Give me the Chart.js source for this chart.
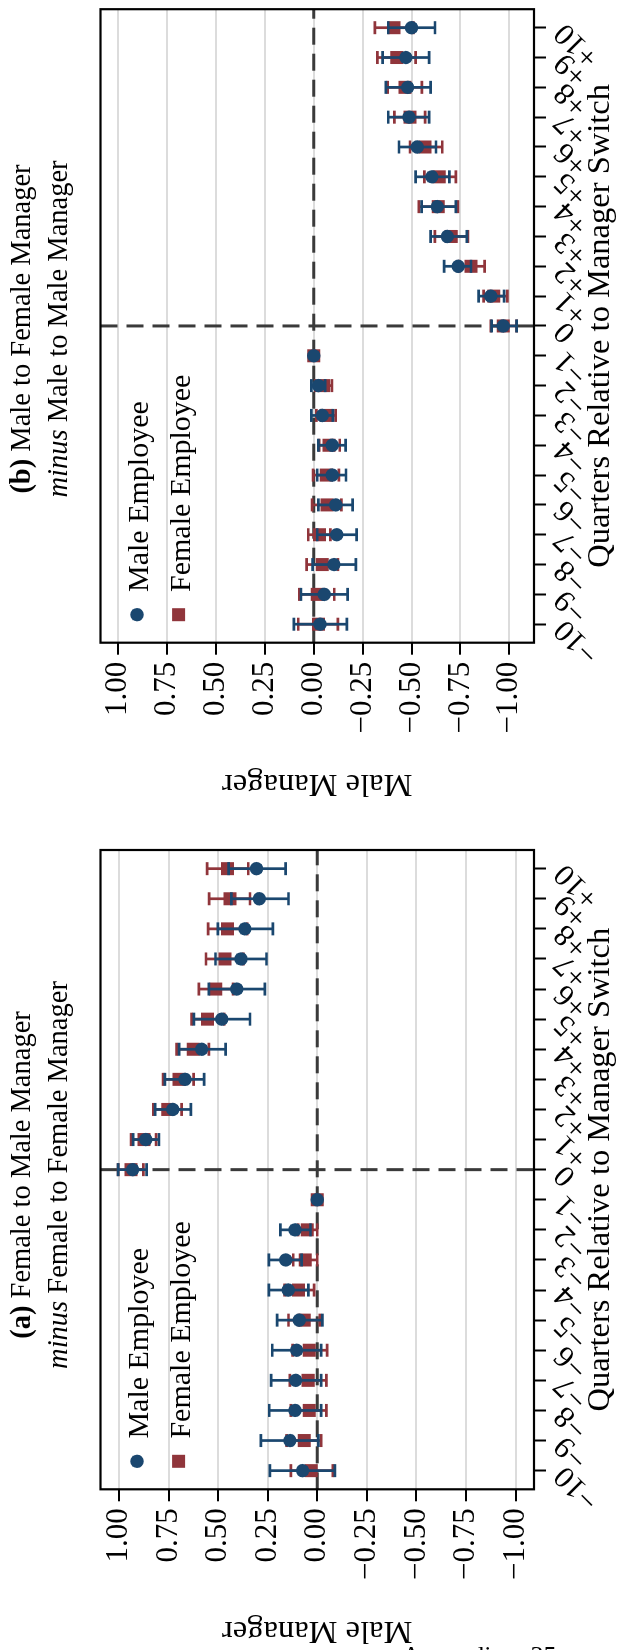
<!DOCTYPE html>
<html>
<head>
<meta charset="utf-8">
<script src="https://cdn.jsdelivr.net/npm/chart.js@4.4.1/dist/chart.umd.min.js"></script>
<style>
html,body{margin:0;padding:0;background:#fff;}
body{width:618px;height:1650px;position:relative;overflow:hidden;font-family:"Liberation Serif","Times New Roman",serif;color:#000;}
.panel{position:absolute;left:0;width:830px;height:618px;transform-origin:0 0;transform:rotate(-90deg);}
.panel canvas{position:absolute;left:0;top:0;}
.ttl{position:absolute;top:2px;width:600px;text-align:center;font-size:28.5px;line-height:37px;white-space:nowrap;}
#foot{position:absolute;left:402px;top:1641px;font-size:26px;white-space:nowrap;}
</style>
</head>
<body>

<div class="panel" id="pb" style="top:830px">
  <canvas id="chartB" width="830" height="618"></canvas>
  <div class="ttl" style="left:201px"><b>(b)</b> Male to Female Manager<br><i>minus</i> Male to Male Manager</div>
</div>
<div class="panel" id="pa" style="top:1650px">
  <canvas id="chartA" width="830" height="618"></canvas>
  <div class="ttl" style="left:175px"><b>(a)</b> Female to Male Manager<br><i>minus</i> Female to Female Manager</div>
</div>
<div id="foot">Appendix – 35</div>

<script>
// quarters relative to the manager switch, and their labels
const quarters = [-10,-9,-8,-7,-6,-5,-4,-3,-2,-1,0,1,2,3,4,5,6,7,8,9,10];
const quarterLabels = ['−10','−9','−8','−7','−6','−5','−4','−3','−2','−1','0','+1','+2','+3','+4','+5','+6','+7','+8','+9','+10'];
const yTicks = [-1,-0.75,-0.5,-0.25,0,0.25,0.5,0.75,1];

// (a) Female to Male minus Female to Female
const maleA   = [0.074,0.138,0.112,0.109,0.104,0.091,0.146,0.159,0.112,0,0.931,0.865,0.729,0.667,0.583,0.482,0.406,0.385,0.365,0.292,0.306];
const maleALo = [-0.089,-0.006,-0.020,-0.020,-0.020,-0.026,0.045,0.079,0.034,0,0.860,0.798,0.637,0.570,0.462,0.339,0.264,0.256,0.224,0.145,0.159];
const maleAHi = [0.239,0.284,0.242,0.233,0.227,0.202,0.244,0.244,0.186,0,1.004,0.928,0.818,0.768,0.697,0.622,0.547,0.513,0.501,0.433,0.447];
const femA    = [0.030,0.066,0.040,0.046,0.040,0.066,0.095,0.060,0.050,0,0.939,0.874,0.754,0.697,0.625,0.553,0.512,0.465,0.452,0.440,0.452];
const femALo  = [-0.079,-0.020,-0.046,-0.046,-0.050,-0.013,0.016,0.000,0.000,0,0.877,0.813,0.684,0.623,0.546,0.469,0.424,0.373,0.353,0.339,0.348];
const femAHi  = [0.133,0.154,0.133,0.138,0.124,0.145,0.165,0.121,0.096,0,1.004,0.939,0.827,0.777,0.709,0.633,0.597,0.561,0.550,0.545,0.555];

// (b) Male to Female minus Male to Male
const maleB   = [-0.032,-0.054,-0.103,-0.118,-0.112,-0.095,-0.095,-0.044,-0.024,0,-0.969,-0.905,-0.739,-0.683,-0.632,-0.604,-0.529,-0.487,-0.480,-0.471,-0.500];
const maleBLo = [-0.169,-0.173,-0.215,-0.219,-0.199,-0.165,-0.163,-0.098,-0.058,0,-1.037,-0.973,-0.804,-0.783,-0.727,-0.693,-0.625,-0.590,-0.598,-0.590,-0.620];
const maleBHi = [0.101,0.065,0.006,-0.018,-0.024,-0.018,-0.024,0.012,0.012,0,-0.909,-0.843,-0.667,-0.598,-0.552,-0.521,-0.436,-0.381,-0.369,-0.352,-0.381];
const femB    = [-0.024,-0.018,-0.044,-0.030,-0.068,-0.064,-0.078,-0.064,-0.050,0,-0.969,-0.920,-0.804,-0.703,-0.637,-0.642,-0.569,-0.492,-0.466,-0.424,-0.410];
const femBLo  = [-0.123,-0.105,-0.124,-0.085,-0.141,-0.129,-0.133,-0.112,-0.093,0,-1.037,-0.990,-0.874,-0.788,-0.737,-0.727,-0.657,-0.569,-0.553,-0.521,-0.509];
const femBHi  = [0.079,0.074,0.036,0.028,0.008,0.003,-0.028,-0.014,-0.008,0,-0.905,-0.868,-0.743,-0.619,-0.538,-0.566,-0.492,-0.412,-0.378,-0.325,-0.313];

const NAVY='#1a476f', MAROON='#90353b';
const FONT='"Liberation Serif","Times New Roman",serif';

function fmt(v){ let s=Math.abs(v).toFixed(2); return (v<-1e-9?'−':'')+s; }

// error bars drawn just before each dataset's markers
const errBars={
  id:'errBars',
  beforeDatasetDraw(chart,args){
    const ds=chart.data.datasets[args.index];
    const xs=chart.scales.x, ys=chart.scales.y, ctx=chart.ctx;
    ctx.save();
    ctx.strokeStyle=ds.backgroundColor; ctx.lineWidth=2.7; ctx.lineCap='butt';
    quarters.forEach((q,i)=>{
      if(ds.lo[i]===ds.hi[i]) return;
      let x=xs.getPixelForValue(q), y1=ys.getPixelForValue(ds.lo[i]), y2=ys.getPixelForValue(ds.hi[i]);
      ctx.beginPath();
      ctx.moveTo(x,y1);ctx.lineTo(x,y2);
      ctx.moveTo(x-6.5,y1);ctx.lineTo(x+6.5,y1);
      ctx.moveTo(x-6.5,y2);ctx.lineTo(x+6.5,y2);
      ctx.stroke();
    });
    ctx.restore();
  }
};

// dashed reference lines at quarter 0 and value 0
const refLines={
  id:'refLines',
  beforeDatasetsDraw(chart){
    const {ctx,chartArea:a,scales:{x,y}}=chart;
    ctx.save();
    ctx.strokeStyle='#3a3a3a'; ctx.lineWidth=3; ctx.setLineDash([17,9]);
    let px=x.getPixelForValue(0), py=y.getPixelForValue(0);
    ctx.beginPath(); ctx.moveTo(px,a.top); ctx.lineTo(px,a.bottom); ctx.stroke();
    ctx.beginPath(); ctx.moveTo(a.left,py); ctx.lineTo(a.right,py); ctx.stroke();
    ctx.restore();
  }
};

const frame={
  id:'frame',
  afterDatasetsDraw(chart){
    const {ctx,chartArea:a}=chart;
    ctx.save(); ctx.strokeStyle='#000'; ctx.lineWidth=2.2;
    ctx.strokeRect(a.left,a.top,a.right-a.left,a.bottom-a.top);
    ctx.restore();
  }
};

// legend inside the plot, top-left
const inLegend={
  id:'inLegend',
  afterDraw(chart){
    const {ctx,chartArea:a}=chart;
    ctx.save();
    ctx.font='30px '+FONT; ctx.textBaseline='alphabetic'; ctx.textAlign='left'; ctx.fillStyle='#000';
    chart.data.datasets.forEach((ds,k)=>{
      let mx=a.left+28, my=a.top+36.5+k*41.6;
      ctx.fillStyle=ds.backgroundColor;
      if(ds.pointStyle==='rect'){ ctx.fillRect(mx-6.5,my-6.5,13,13); }
      else { ctx.beginPath(); ctx.arc(mx,my,ds.pointRadius,0,Math.PI*2); ctx.fill(); }
      ctx.fillStyle='#000';
      ctx.fillText(ds.label,a.left+50.7,my+11);
    });
    ctx.restore();
  }
};

function makePanel(id,p){
  const pts=v=>quarters.map((q,i)=>({x:q,y:v[i]}));
  return new Chart(document.getElementById(id),{
    type:'scatter',
    data:{datasets:[
      {label:'Male Employee',data:pts(p.male),lo:p.maleLo,hi:p.maleHi,pointStyle:'circle',pointRadius:6.7,
       backgroundColor:NAVY,borderColor:NAVY,borderWidth:0,order:0},
      {label:'Female Employee',data:pts(p.fem),lo:p.femLo,hi:p.femHi,pointStyle:'rect',pointRadius:9.2,
       backgroundColor:MAROON,borderColor:MAROON,borderWidth:0,order:1}
    ]},
    options:{
      responsive:false,animation:false,devicePixelRatio:1,
      layout:{padding:{left:p.padL,right:p.padR,top:100.5,bottom:0}},
      plugins:{legend:{display:false},tooltip:{enabled:false}},
      scales:{
        x:{type:'linear',min:-10.62,max:10.62,
          afterBuildTicks:s=>{s.ticks=quarters.map(v=>({value:v}));},
          afterFit:s=>{s.height=84;s.paddingLeft=0;s.paddingRight=0;},
          grid:{drawOnChartArea:false,tickLength:12,tickColor:'#000',tickWidth:2},
          border:{display:false},
          ticks:{autoSkip:false,minRotation:45,maxRotation:45,padding:1,color:'#000',
            font:{family:FONT,size:31},callback:(v,i)=>quarterLabels[i]},
          title:{display:true,text:'Quarters Relative to Manager Switch',color:'#000',
            font:{family:FONT,size:32.5,lineHeight:1},padding:{top:0,bottom:1}}
        },
        y:{type:'linear',min:p.yMin,max:p.yMax,
          afterBuildTicks:s=>{s.ticks=yTicks.map(v=>({value:v}));},
          afterFit:s=>{s.width=p.yW;s.paddingTop=0;s.paddingBottom=0;},
          grid:{color:'#dcdcdc',lineWidth:2,tickLength:12,tickColor:'#000',tickWidth:2},
          border:{display:false},
          ticks:{padding:7,color:'#000',font:{family:FONT,size:31},callback:v=>fmt(v)},
          title:{display:true,text:'Male Manager',color:'#000',
            font:{family:FONT,size:32.5,lineHeight:1.2},padding:{top:0,bottom:0}}
        }
      }
    },
    plugins:[refLines,errBars,frame,inLegend]
  });
}

makePanel('chartA',{male:maleA,maleLo:maleALo,maleHi:maleAHi,fem:femA,femLo:femALo,femHi:femAHi,
  yMin:-1.093,yMax:1.093,padL:0,padR:30,yW:160.7});
makePanel('chartB',{male:maleB,maleLo:maleBLo,maleHi:maleBHi,fem:femB,femLo:femBLo,femHi:femBHi,
  yMin:-1.126,yMax:1.090,padL:27,padR:5,yW:160.3});
</script>
</body>
</html>
